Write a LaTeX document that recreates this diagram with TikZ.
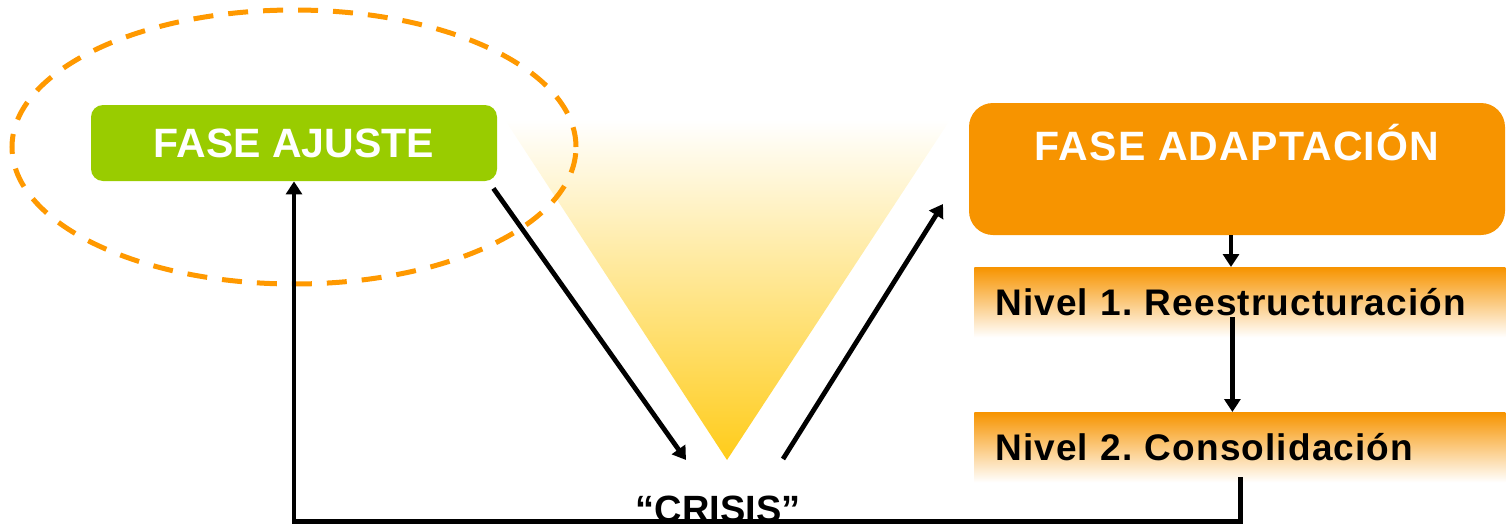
\documentclass[tikz,border=0pt]{standalone}
\usepackage{fontspec}
\setmainfont{Liberation Sans}
\newfontfamily\widesans[LetterSpace=3]{Liberation Sans}
\usetikzlibrary{arrows.meta,positioning}
\definecolor{ajustegreen}{HTML}{99CC00}
\definecolor{adaptorange}{HTML}{F79400}
\definecolor{ringorange}{HTML}{FF9900}
\definecolor{crisisyellow}{HTML}{FFCC1A}
\definecolor{crisispale}{HTML}{FDE8B8}

\begin{document}
\begin{tikzpicture}[x=0.5pt,y=-0.5pt,
  flow/.style={line width=2.4pt,-{Triangle[length=6.5pt,width=8pt]}},
  phase/.style={rounded corners=6pt,text=white,
    font=\fontsize{20.5}{24}\selectfont\bfseries},
  band/.style={anchor=north west,top color=adaptorange,bottom color=white,
    minimum width=265.5pt,minimum height=35pt,text width=244.5pt,
    inner xsep=10.5pt,align=left,text height=13pt,text depth=0pt,
    font=\widesans\fontsize{18.5}{22}\selectfont\bfseries\frenchspacing}]
  \useasboundingbox (0,0) rectangle (1506,525);
  % crisis valley
  \shade[top color=white,middle color=crisispale,bottom color=crisisyellow]
    (505,120) -- (950,120) -- (727,460) -- cycle;
  \node[phase,fill=ajustegreen,minimum width=203pt,minimum height=38pt]
    (ajuste) at (294,143) {FASE AJUSTE};
  \node[phase,fill=adaptorange,rounded corners=12pt,minimum width=268pt,
    minimum height=66pt,text height=15pt,text depth=24pt,
    font=\widesans\fontsize{20.5}{24}\selectfont\bfseries]
    (adapt) at (1237,169) {FASE ADAPTACIÓN};
  \node[band] (niv1) at (974,267) {Nivel 1. Reestructuración};
  \node[band] (niv2) at (974,412) {Nivel 2. Consolidación};
  \node[anchor=base,font=\fontsize{19}{22}\selectfont\bfseries]
    (crisis) at (718,522) {“CRISIS”};
  \draw[ringorange,line width=2.5pt,dash pattern=on 10pt off 7.5pt]
    ([yshift=-2pt]ajuste.center) ellipse[x radius=141pt,y radius=68.5pt];
  % arrows
  \coordinate (dipin) at (686,460);
  \coordinate (dipout) at (783,459);
  \coordinate (riseend) at (943,204);
  \draw[flow]([xshift=-2pt,yshift=-3.5pt]ajuste.south east)--(dipin);
  \draw[flow](dipout)--(riseend);
  \draw[flow]([xshift=-3pt]adapt.south)--([xshift=-3pt]adapt.south |- niv1.north);
  \draw[flow]([xshift=-3.75pt,yshift=-7.5pt]niv1.center)--([xshift=-3.75pt]niv2.north);
  \draw[flow]([xshift=0.25pt,yshift=-15pt]niv2.center)--++(0,44) -| (ajuste.south);
\end{tikzpicture}
\end{document}
